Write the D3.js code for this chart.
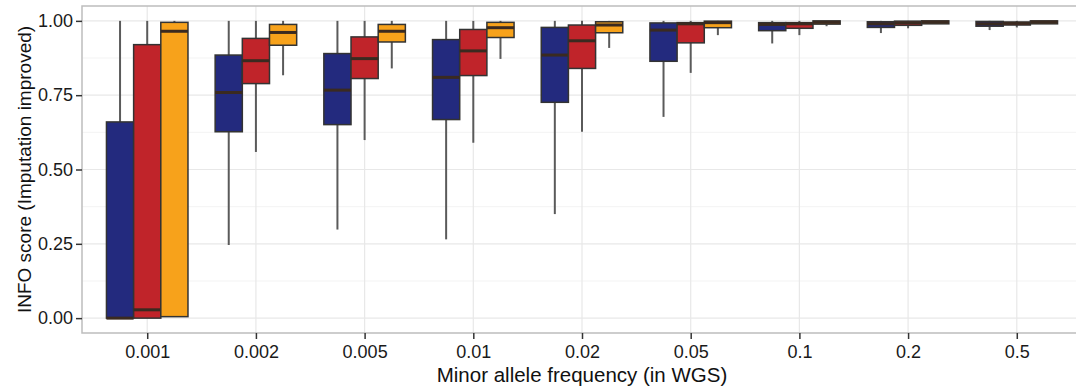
<!DOCTYPE html>
<html>
<head>
<meta charset="utf-8">
<script src="https://cdn.jsdelivr.net/npm/d3@7"></script>
<style>
  body { margin: 0; background: #fff; }
  svg { display: block; font-family: "Liberation Sans", Arial, sans-serif; }
</style>
</head>
<body>
<svg id="chart" width="1076" height="390"></svg>
<script>
// categories on the x axis
const mafBins = ["0.001", "0.002", "0.005", "0.01", "0.02", "0.05", "0.1", "0.2", "0.5"];
const groups = ["blue", "red", "orange"];
const groupColors = ["#232a7e", "#c0242a", "#f7a21b"];

// box stats per bin: [lowWhisker, q1, median, q3, highWhisker]
const blueStats = [
  [0.0, 0.0, 0.0, 0.66, 1.0],
  [0.246, 0.627, 0.759, 0.885, 1.0],
  [0.298, 0.651, 0.767, 0.89, 1.0],
  [0.265, 0.668, 0.81, 0.937, 1.0],
  [0.35, 0.726, 0.885, 0.978, 1.0],
  [0.677, 0.864, 0.969, 0.993, 1.0],
  [0.924, 0.967, 0.988, 0.994, 1.0],
  [0.959, 0.978, 0.99, 0.997, 1.0],
  [0.969, 0.982, 0.99, 0.998, 1.0]
];
const redStats = [
  [0.0, 0.0, 0.028, 0.92, 1.0],
  [0.559, 0.789, 0.866, 0.941, 1.0],
  [0.599, 0.806, 0.873, 0.946, 1.0],
  [0.59, 0.816, 0.899, 0.971, 1.0],
  [0.627, 0.84, 0.933, 0.986, 1.0],
  [0.825, 0.926, 0.99, 0.994, 1.0],
  [0.952, 0.975, 0.99, 0.994, 1.0],
  [0.975, 0.985, 0.993, 0.999, 1.0],
  [0.978, 0.986, 0.992, 0.996, 1.0]
];
const orangeStats = [
  [0.005, 0.005, 0.965, 0.995, 1.0],
  [0.817, 0.918, 0.961, 0.988, 1.0],
  [0.84, 0.929, 0.965, 0.988, 1.0],
  [0.872, 0.944, 0.977, 0.995, 1.0],
  [0.909, 0.96, 0.986, 0.997, 1.0],
  [0.952, 0.977, 0.994, 0.999, 1.0],
  [0.982, 0.989, 0.995, 1.0, 1.0],
  [0.99, 0.99, 0.996, 1.0, 1.0],
  [0.99, 0.99, 0.996, 1.0, 1.0]
];
const allStats = [blueStats, redStats, orangeStats];

const yTicks = [0, 0.25, 0.5, 0.75, 1.0];
const yMinor = [0.125, 0.375, 0.625, 0.875];

const svg = d3.select("#chart");
const panelLeft = 82, panelRight = 1082, panelTop = 6, panelBottom = 333;

// discrete scale with ggplot-like 0.6 expansion on each side
const pad = (panelRight - panelLeft) * 0.6 / 9.2;
const x = d3.scalePoint().domain(mafBins).range([panelLeft + pad, panelRight - pad]);
const step = x.step();
const y = d3.scaleLinear().domain([-0.05, 1.05]).range([panelBottom, panelTop]);
const dodge = d3.scaleBand().domain(groups).range([-step * 0.375, step * 0.375]).padding(0);

const g = svg.append("g");

// grid
g.selectAll("line.yminor").data(yMinor).join("line")
  .attr("x1", panelLeft).attr("x2", panelRight)
  .attr("y1", d => y(d)).attr("y2", d => y(d))
  .attr("stroke", "#f3f3f3").attr("stroke-width", 1);
g.selectAll("line.ymajor").data(yTicks).join("line")
  .attr("x1", panelLeft).attr("x2", panelRight)
  .attr("y1", d => y(d)).attr("y2", d => y(d))
  .attr("stroke", "#e8e8e8").attr("stroke-width", 1.2);
g.selectAll("line.xmajor").data(mafBins).join("line")
  .attr("x1", d => x(d)).attr("x2", d => x(d))
  .attr("y1", panelTop).attr("y2", panelBottom)
  .attr("stroke", "#e8e8e8").attr("stroke-width", 1.2);

// boxes
allStats.forEach((stats, gi) => {
  const grp = groups[gi];
  const bw = dodge.bandwidth();
  const layer = g.append("g");
  stats.forEach((s, i) => {
    const x0 = x(mafBins[i]) + dodge(grp);
    const cx = x0 + bw / 2;
    // whiskers
    layer.append("line")
      .attr("x1", cx).attr("x2", cx)
      .attr("y1", y(s[3])).attr("y2", y(s[4]))
      .attr("stroke", "#5a5a5a").attr("stroke-width", 2);
    layer.append("line")
      .attr("x1", cx).attr("x2", cx)
      .attr("y1", y(s[0])).attr("y2", y(s[1]))
      .attr("stroke", "#5a5a5a").attr("stroke-width", 2);
    layer.append("rect")
      .attr("x", x0).attr("width", bw)
      .attr("y", y(s[3])).attr("height", Math.max(1, y(s[1]) - y(s[3])))
      .attr("fill", groupColors[gi])
      .attr("stroke", "#333").attr("stroke-width", 1.5);
    layer.append("line")
      .attr("x1", x0).attr("x2", x0 + bw)
      .attr("y1", y(s[2])).attr("y2", y(s[2]))
      .attr("stroke", "#3a2a20").attr("stroke-width", 3);
  });
});

// panel border
svg.append("rect")
  .attr("x", panelLeft).attr("y", panelTop)
  .attr("width", panelRight - panelLeft).attr("height", panelBottom - panelTop)
  .attr("fill", "none").attr("stroke", "#bdbdbd").attr("stroke-width", 1.5);

// axes
const yAxis = svg.append("g").attr("transform", `translate(${panelLeft},0)`)
  .call(d3.axisLeft(y).tickValues(yTicks).tickFormat(d3.format(".2f")).tickSize(6).tickPadding(3));
const xAxis = svg.append("g").attr("transform", `translate(0,${panelBottom})`)
  .call(d3.axisBottom(x).tickSize(6).tickPadding(6));
[yAxis, xAxis].forEach(a => {
  a.select(".domain").remove();
  a.selectAll(".tick line").attr("stroke", "#333").attr("stroke-width", 1.5);
  a.selectAll(".tick text").attr("fill", "#1a1a1a").style("font-size", "18px")
    .style("font-family", "'Liberation Sans', Arial, sans-serif");
});

// titles
svg.append("text")
  .attr("x", (panelLeft + panelRight) / 2).attr("y", 382)
  .attr("text-anchor", "middle").attr("fill", "#111")
  .style("font-size", "20.5px")
  .text("Minor allele frequency (in WGS)");
svg.append("text")
  .attr("transform", `translate(31,${(panelTop + panelBottom) / 2}) rotate(-90)`)
  .attr("text-anchor", "middle").attr("fill", "#111")
  .style("font-size", "19px")
  .text("INFO score (Imputation improved)");
</script>
</body>
</html>
